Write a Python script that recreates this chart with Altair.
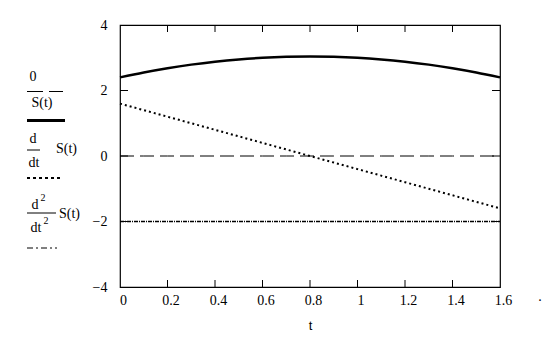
import altair as alt
import pandas as pd

# ---- data ----
t_vals = [0.0, 0.1, 0.2, 0.3, 0.4, 0.5, 0.6, 0.7, 0.8, 0.9, 1.0, 1.1, 1.2, 1.3, 1.4, 1.5, 1.6]
s_vals = [2.40, 2.55, 2.68, 2.79, 2.88, 2.95, 3.00, 3.03, 3.04, 3.03, 3.00, 2.95, 2.88, 2.79, 2.68, 2.55, 2.40]
ds_vals = [1.6, 1.4, 1.2, 1.0, 0.8, 0.6, 0.4, 0.2, 0.0, -0.2, -0.4, -0.6, -0.8, -1.0, -1.2, -1.4, -1.6]
d2s_vals = [-2.0] * 17
zero_vals = [0.0] * 17

x_ticks = [0, 0.2, 0.4, 0.6, 0.8, 1.0, 1.2, 1.4, 1.6]
x_inner_ticks = [0.2, 0.4, 0.6, 0.8, 1.0, 1.2, 1.4]
y_ticks = [-4, -2, 0, 2, 4]
y_inner_ticks = [-2, 0, 2]

W, H = 380, 262
SERIF = "Times New Roman, Liberation Serif, serif"
FS = 14

xs = alt.Scale(domain=[0, 1.6], nice=False, zero=False)
ys = alt.Scale(domain=[-4, 4], nice=False)

def series(vals, **mark):
    df = pd.DataFrame({"t": t_vals, "v": vals})
    return alt.Chart(df).mark_line(color="black", **mark).encode(
        x=alt.X("t:Q", scale=xs,
                axis=alt.Axis(values=x_ticks, title="t", grid=False, domain=False, ticks=False,
                              format="~g",
                              labelFont=SERIF, labelFontSize=FS, labelColor="black",
                              labelPadding=6, labelOffset=3, labelFlush=False,
                              titleFont="Arial, Liberation Sans, sans-serif", titleFontSize=13,
                              titleFontWeight="normal", titleColor="black", titlePadding=12)),
        y=alt.Y("v:Q", scale=ys,
                axis=alt.Axis(values=y_ticks, title=None, grid=False, domain=False, ticks=False,
                              format="~g",
                              labelFont=SERIF, labelFontSize=FS, labelColor="black",
                              labelPadding=13, labelFlush=False)),
    )

zero_line = series(zero_vals, strokeWidth=1, strokeDash=[14, 6])
s_line = series(s_vals, strokeWidth=2.5, interpolate="monotone")
ds_line = series(ds_vals, strokeWidth=2, strokeDash=[2, 3])
d2s_line = series(d2s_vals, strokeWidth=1.5, strokeDash=[4, 1, 1, 1])

one = pd.DataFrame({"k": [0]})

def rule(x1, x2, y1, y2, w=1, dash=None):
    kw = dict(color="black", strokeWidth=w)
    if dash:
        kw["strokeDash"] = dash
    return alt.Chart(one).mark_rule(**kw).encode(
        x=alt.value(x1), x2=alt.value(x2), y=alt.value(y1), y2=alt.value(y2))

def txt(s, x, y, size=FS, font=SERIF, align="center"):
    return alt.Chart(one).mark_text(text=s, font=font, fontSize=size, color="black",
                                    align=align, baseline="middle").encode(
        x=alt.value(x), y=alt.value(y))

# inward ticks
bt = pd.DataFrame({"t": x_inner_ticks})
ticks_bottom = alt.Chart(bt).mark_rule(color="black").encode(
    x=alt.X("t:Q", scale=xs), y=alt.value(H), y2=alt.value(H - 7))
ticks_top = alt.Chart(bt).mark_rule(color="black").encode(
    x=alt.X("t:Q", scale=xs), y=alt.value(0), y2=alt.value(7))
lt = pd.DataFrame({"v": y_inner_ticks})
ticks_left = alt.Chart(lt).mark_rule(color="black").encode(
    y=alt.Y("v:Q", scale=ys), x=alt.value(0), x2=alt.value(8))
ticks_right = alt.Chart(lt).mark_rule(color="black").encode(
    y=alt.Y("v:Q", scale=ys), x=alt.value(W), x2=alt.value(W - 8))

# legend (Mathcad style trace labels)
legend = [
    txt("0", -87, 52),
    rule(-93, -57, 66.5, 66.5, 1, [16, 6]),
    txt("S(t)", -78, 78),
    rule(-93, -55, 95.5, 95.5, 3),
    txt("d", -87, 114),
    rule(-93, -80, 125, 125, 1),
    txt("S(t)", -64, 124, align="left"),
    txt("dt", -86, 138),
    rule(-93, -60, 153, 153, 2, [3, 3]),
    txt("d", -85, 180),
    txt("2", -77, 173, size=10),
    rule(-93, -64, 188, 188, 1),
    txt("S(t)", -61, 189, align="left"),
    txt("dt", -84, 203),
    txt("2", -74, 196, size=10),
    rule(-93, -63, 223, 223, 1, [6, 3, 2, 3]),
    txt(".", 420, 272),
]

chart = alt.layer(
    zero_line, s_line, ds_line, d2s_line,
    ticks_bottom, ticks_top, ticks_left, ticks_right,
    *legend
).properties(
    width=W, height=H,
    autosize=alt.AutoSizeParams(type="none"),
    padding={"left": 120, "top": 25, "right": 52, "bottom": 52},
).configure(background="white").configure_view(stroke="black", strokeWidth=1.2)

chart.save("out.html", embed_options={"renderer": "svg", "actions": False})
